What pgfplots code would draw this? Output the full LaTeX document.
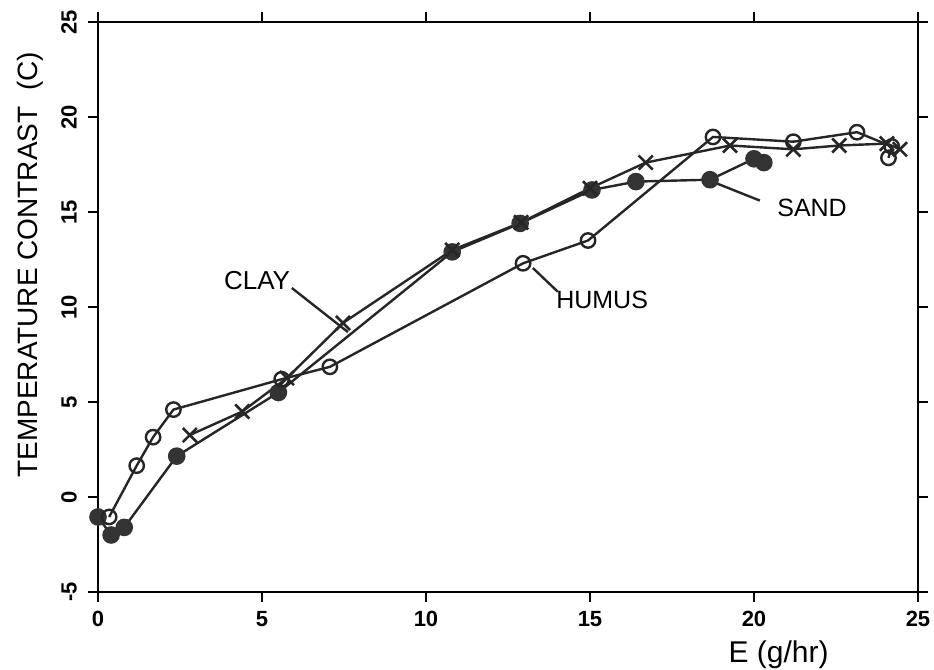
\documentclass[border=0pt]{standalone}
\usepackage{pgfplots}
\pgfplotsset{compat=1.18}
\usepackage{fontspec}
\setmainfont{Liberation Sans}
\begin{document}
\begin{tikzpicture}
\begin{axis}[
  name=ax,
  scale only axis,
  width=410pt, height=285pt,
  xmin=0, xmax=25, ymin=-5, ymax=25,
  xtick={0,5,10,15,20,25},
  ytick={-5,0,5,10,15,20,25},
  tick align=outside,
  major tick length=5pt,
  axis line style={line width=1.2pt},
  tick style={line width=1.2pt, black},
  every tick label/.append style={font=\fontsize{11}{13}\selectfont\bfseries},
  /pgf/number format/assume math mode=true,
  yticklabel style={rotate=90, anchor=south, yshift=2pt},
  xticklabel style={yshift=-1pt},
  clip=false,
  xlabel={E (g/hr)},
  every axis x label/.style={at={(axis description cs:0.83,-0.11)}, anchor=center, font=\fontsize{15}{17}\selectfont},
  ylabel={TEMPERATURE CONTRAST\ \ (C)},
  every axis y label/.style={at={(axis description cs:-0.083,0.574)}, anchor=center, rotate=90, font=\fontsize{14}{16}\selectfont},
]
% SAND (filled circles)
\addplot[black!85, line width=1.2pt, mark=*, mark size=3.8pt, mark options={fill=black!80, draw=black!80}]
coordinates {(0,-1.05) (0.4,-2.0) (0.8,-1.6) (2.4,2.15) (5.5,5.5) (10.8,12.9) (12.87,14.4) (15.06,16.16) (16.4,16.6) (18.66,16.7) (20.0,17.8) (20.3,17.6)};
% CLAY (x markers)
\addplot[black!85, line width=1.2pt, mark=x, mark size=5pt, mark options={line width=1.3pt}]
coordinates {(2.8,3.26) (4.4,4.5) (5.76,6.26) (7.47,9.16) (10.8,13.0) (12.9,14.45) (15.0,16.25) (16.7,17.6) (19.27,18.5) (21.2,18.3) (22.6,18.5) (24.05,18.6) (24.45,18.3)};
% HUMUS (open circles)
\addplot[black!85, line width=1.2pt, mark=o, mark size=3.6pt, mark options={line width=1.2pt, fill=white}]
coordinates {(0.34,-1.05) (1.18,1.65) (1.68,3.15) (2.3,4.6) (5.6,6.2) (7.07,6.85) (12.96,12.3) (14.94,13.5) (18.75,18.95) (21.2,18.7) (23.14,19.2) (24.2,18.45) (24.1,17.85)};
% leaders and labels
\draw[line width=1.2pt, black!85] (axis cs:5.91,11.0) -- (axis cs:7.62,8.68);
\node[font=\fontsize{13}{15}\selectfont] at (axis cs:4.85,11.4) {CLAY};
\draw[line width=1.2pt, black!85] (axis cs:13.26,12.05) -- (axis cs:14.02,10.8);
\node[font=\fontsize{12.5}{14}\selectfont] at (axis cs:15.37,10.4) {HUMUS};
\draw[line width=1.2pt, black!85] (axis cs:18.87,16.5) -- (axis cs:20.18,15.6);
\node[font=\fontsize{12.5}{14}\selectfont] at (axis cs:21.77,15.2) {SAND};
\end{axis}
\pgfresetboundingbox
\path[use as bounding box] ([xshift=-49pt,yshift=-39pt]ax.south west) rectangle ([xshift=8pt,yshift=11pt]ax.north east);
\end{tikzpicture}
\end{document}
